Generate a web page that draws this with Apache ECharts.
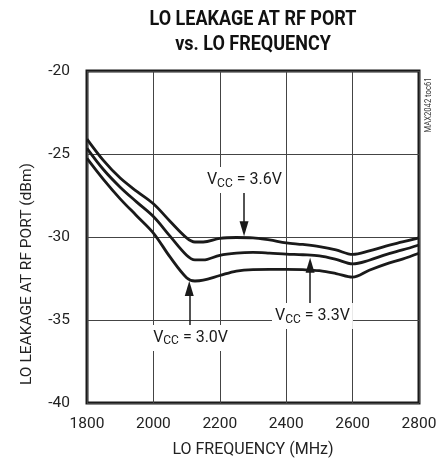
<!DOCTYPE html>
<html>
<head>
<meta charset="utf-8">
<script src="https://cdn.jsdelivr.net/npm/echarts@6/dist/echarts.min.js"></script>
<style>
  html, body { margin: 0; padding: 0; background: #fff; }
  #chart { width: 448px; height: 463px; }
</style>
</head>
<body>
<div id="chart"></div>
<script>
// LO leakage at the RF port, swept over LO frequency, one curve per supply voltage
var freqMHz = [1800, 1850, 1900, 1950, 2000, 2050, 2100, 2125, 2150, 2200, 2250,
               2300, 2350, 2400, 2450, 2500, 2550, 2600, 2650, 2700, 2750, 2800];
var leak36 = [-24.1, -25.4, -26.45, -27.25, -28.0, -29.05, -30.05, -30.3, -30.3, -30.08, -30.03,
              -30.05, -30.18, -30.35, -30.45, -30.58, -30.78, -31.05, -30.84, -30.55, -30.3, -30.05];
var leak33 = [-24.66, -25.95, -27.0, -27.9, -28.77, -29.95, -31.1, -31.38, -31.38, -31.1, -30.97,
              -30.93, -30.97, -31.03, -31.07, -31.14, -31.35, -31.62, -31.4, -31.06, -30.78, -30.48];
var leak30 = [-25.26, -26.54, -27.7, -28.73, -29.76, -31.2, -32.45, -32.65, -32.6, -32.32, -32.05,
              -31.96, -31.95, -31.95, -31.97, -32.03, -32.2, -32.42, -32.0, -31.63, -31.33, -30.98];

var xTicks = { min: 1800, max: 2800, step: 200 };
var yTicks = { min: -40, max: -20, step: 5 };

// Callouts: label anchor [MHz, dBm], arrow tail and arrow tip [MHz, dBm]
var vccNames = ['3.6V', '3.3V', '3.0V'];
var labelAt = [[2274, -26.57], [2479, -34.76], [2112, -36.08]];
var arrowFrom = [[2273, -26.95], [2472, -33.98], [2108, -35.36]];
var arrowTo = [[2273, -29.5], [2472, -31.7], [2108, -33.1]];

var FONT = 'Roboto, "Liberation Sans", sans-serif';
var INK = '#1a1a1a';

function pairs(ys) {
  return freqMHz.map(function (f, i) { return [f, ys[i]]; });
}

function callout(i) {
  return {
    markLine: {
      silent: true,
      animation: false,
      symbol: ['none', 'triangle'],
      symbolSize: [9, 15],
      lineStyle: { color: INK, width: 1.5, type: 'solid' },
      label: { show: false },
      data: [[{ coord: arrowFrom[i] }, { coord: arrowTo[i] }]]
    },
    markPoint: {
      silent: true,
      animation: false,
      symbol: 'rect',
      symbolSize: 1,
      itemStyle: { color: 'rgba(0,0,0,0)' },
      label: {
        show: true,
        position: 'inside',
        backgroundColor: '#fff',
        padding: [3, 3, 3, 3],
        formatter: '{v|V}{s|CC}{v| = ' + vccNames[i] + '}',
        rich: {
          v: { fontFamily: FONT, fontSize: 16, color: INK, lineHeight: 20 },
          s: { fontFamily: FONT, fontSize: 12, color: INK, lineHeight: 14, padding: [7, 0, 0, 0] }
        }
      },
      data: [{ coord: labelAt[i] }]
    }
  };
}

function curve(ys, i) {
  var s = {
    type: 'line',
    data: pairs(ys),
    smooth: 0.35,
    showSymbol: false,
    symbol: 'none',
    lineStyle: { color: INK, width: 2.8 },
    z: 3
  };
  var c = callout(i);
  s.markLine = c.markLine;
  s.markPoint = c.markPoint;
  return s;
}

function plain(v) { return String(v); }

var chart = echarts.init(document.getElementById('chart'), null, { renderer: 'canvas' });
chart.setOption({
  animation: false,
  backgroundColor: '#fff',
  graphic: [
    {
      type: 'text',
      x: 253, y: 7,
      scaleX: 0.9,
      style: {
        text: 'LO LEAKAGE AT RF PORT\nvs. LO FREQUENCY',
        font: 'bold 20px ' + FONT,
        fill: '#111',
        textAlign: 'center',
        textVerticalAlign: 'top',
        lineHeight: 25
      }
    },
    {
      type: 'text',
      x: 429, y: 105,
      rotation: Math.PI / 2,
      scaleX: 0.85,
      style: {
        text: 'MAX2042 toc61',
        font: '9px ' + FONT,
        fill: '#333',
        textAlign: 'center',
        textVerticalAlign: 'middle'
      }
    }
  ],
  grid: {
    left: 87, right: 29, top: 71, bottom: 60,
    containLabel: false,
    outerBoundsMode: 'none',
    show: true,
    borderColor: '#1a1a1a',
    borderWidth: 3,
    backgroundColor: 'transparent'
  },
  xAxis: {
    type: 'value',
    min: xTicks.min, max: xTicks.max, interval: xTicks.step,
    name: 'LO FREQUENCY (MHz)',
    nameLocation: 'middle',
    nameGap: 39,
    nameTextStyle: { fontFamily: FONT, fontSize: 16, color: '#222' },
    axisLine: { show: false },
    axisTick: { show: false },
    axisLabel: { margin: 13, fontFamily: FONT, fontSize: 15.5, color: '#222', formatter: plain },
    splitLine: { show: true, lineStyle: { color: '#444', width: 1 } }
  },
  yAxis: {
    type: 'value',
    min: yTicks.min, max: yTicks.max, interval: yTicks.step,
    name: 'LO LEAKAGE AT RF PORT (dBm)',
    nameLocation: 'middle',
    nameGap: 52,
    nameTextStyle: { fontFamily: FONT, fontSize: 15.5, color: '#222', padding: [0, 74, 0, 0] },
    axisLine: { show: false },
    axisTick: { show: false },
    axisLabel: { margin: 17, fontFamily: FONT, fontSize: 15.5, color: '#222', formatter: plain },
    splitLine: { show: true, lineStyle: { color: '#444', width: 1 } }
  },
  series: [curve(leak36, 0), curve(leak33, 1), curve(leak30, 2)]
});
</script>
</body>
</html>
